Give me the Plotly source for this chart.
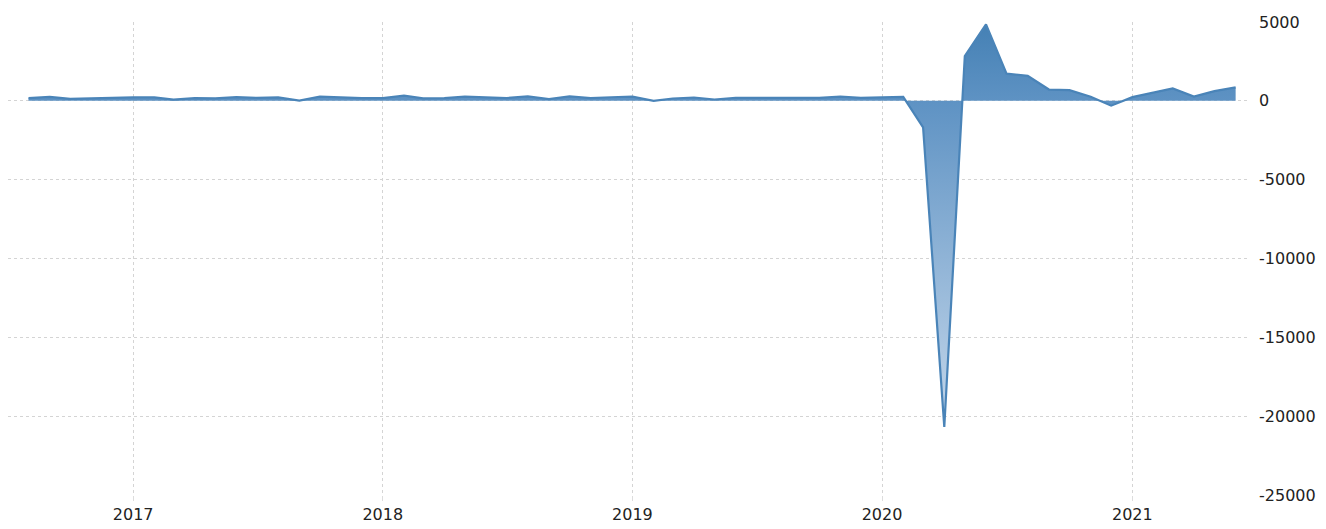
import plotly.graph_objects as go

dates = [
    "2016-08-01", "2016-09-01", "2016-10-01", "2016-11-01", "2016-12-01",
    "2017-01-01", "2017-02-01", "2017-03-01", "2017-04-01", "2017-05-01", "2017-06-01",
    "2017-07-01", "2017-08-01", "2017-09-01", "2017-10-01", "2017-11-01", "2017-12-01",
    "2018-01-01", "2018-02-01", "2018-03-01", "2018-04-01", "2018-05-01", "2018-06-01",
    "2018-07-01", "2018-08-01", "2018-09-01", "2018-10-01", "2018-11-01", "2018-12-01",
    "2019-01-01", "2019-02-01", "2019-03-01", "2019-04-01", "2019-05-01", "2019-06-01",
    "2019-07-01", "2019-08-01", "2019-09-01", "2019-10-01", "2019-11-01", "2019-12-01",
    "2020-01-01", "2020-02-01", "2020-03-01", "2020-04-01", "2020-05-01", "2020-06-01",
    "2020-07-01", "2020-08-01", "2020-09-01", "2020-10-01", "2020-11-01", "2020-12-01",
    "2021-01-01", "2021-02-01", "2021-03-01", "2021-04-01", "2021-05-01", "2021-06-01",
]
values = [
    176, 249, 124, 164, 155,
    216, 219, 73, 175, 155, 239,
    189, 221, 18, 268, 216, 175,
    176, 324, 155, 175, 268, 208,
    178, 282, 108, 277, 176, 227,
    269, 1, 147, 210, 85, 182,
    194, 207, 208, 185, 261, 184,
    214, 251, -1683, -20679, 2833, 4846,
    1726, 1583, 716, 680, 264, -306,
    233, 536, 785, 269, 614, 850,
]
year_ticks = ["2017-01-01", "2018-01-01", "2019-01-01", "2020-01-01", "2021-01-01"]
year_labels = ["2017", "2018", "2019", "2020", "2021"]
y_ticks = [5000, 0, -5000, -10000, -15000, -20000, -25000]

fig = go.Figure()
fig.add_trace(go.Scatter(
    x=dates, y=values, mode="lines",
    line=dict(color="#4a84b8", width=2.2),
    fill="tozeroy",
    fillgradient=dict(
        type="vertical", start=-21000, stop=5000,
        colorscale=[[0, "rgb(198,216,235)"], [0.80, "rgb(95,147,196)"], [1, "rgb(68,128,180)"]],
    ),
    hoverinfo="x+y",
))

fig.update_layout(
    width=1326, height=529,
    margin=dict(l=8, r=76, t=22, b=34, autoexpand=False),
    paper_bgcolor="white", plot_bgcolor="white",
    showlegend=False,
    font=dict(family="DejaVu Sans, Verdana, sans-serif", size=16, color="#222222"),
    xaxis=dict(
        type="date",
        range=["2016-07-02", "2021-06-22"],
        tickvals=year_ticks, ticktext=year_labels,
        showgrid=True, gridcolor="#d4d4d4", griddash="dot", gridwidth=1,
        ticks="outside", ticklen=5, tickcolor="#dddddd",
        showline=False, zeroline=False, automargin=False,
    ),
    yaxis=dict(
        side="right",
        range=[-25000, 5000],
        tickvals=y_ticks, ticktext=[str(v) for v in y_ticks],
        showgrid=True, gridcolor="#d4d4d4", griddash="dot", gridwidth=1,
        zeroline=False, showline=False, automargin=False,
        ticks="", ticklabelstandoff=8,
    ),
)

fig.write_html(
    "out.html",
    config={"displayModeBar": False},
    post_script="document.body.style.margin='0';document.body.style.overflow='hidden';",
)
